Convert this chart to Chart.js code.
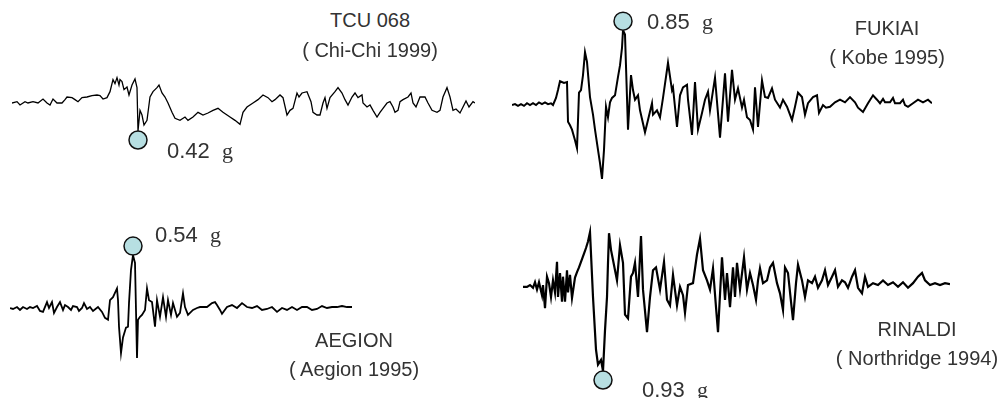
<!DOCTYPE html>
<html>
<head>
<meta charset="utf-8">
<script src="https://cdn.jsdelivr.net/npm/chart.js@4/dist/chart.umd.min.js"></script>
<style>
  html, body { margin: 0; padding: 0; background: #fff; }
  #stage { position: relative; width: 1000px; height: 398px; overflow: hidden; }
  #stage canvas { position: absolute; }
  .title, .event { position: absolute; width: 240px; text-align: center; color: #333;
    font-family: "Liberation Sans", Arial, sans-serif; font-size: 20px; line-height: 20px; white-space: pre; }
  .peak { position: absolute; color: #333; font-family: "Liberation Sans", Arial, sans-serif;
    font-size: 22px; line-height: 22px; white-space: pre; }
  .peak .unit { font-family: "Liberation Serif", "Times New Roman", serif; }
</style>
</head>
<body>
<div id="stage"></div>
<script>
// time steps along each trace, acceleration in g
const tcuTime = [0, 5, 8, 13, 16, 21, 26, 31, 35, 38, 41, 45, 50, 53, 55, 60, 63, 66, 70, 75, 80, 85, 88, 91, 95, 98,
  101, 103, 105, 107, 108, 110, 112, 115, 117, 120, 123, 125, 126, 128, 130, 132, 135, 138, 141, 145, 147, 150, 153,
  156, 160, 163, 168, 173, 176, 181, 186, 191, 196, 201, 206, 211, 218, 223, 228, 231, 235, 241, 246, 251, 256, 260,
  263, 268, 271, 275, 278, 281, 285, 287, 290, 295, 299, 301, 305, 308, 311, 313, 315, 318, 323, 326, 330, 333, 336,
  340, 343, 346, 350, 351, 355, 358, 361, 365, 368, 371, 375, 378, 381, 383, 386, 388, 391, 396, 399, 401, 404, 408,
  413, 416, 420, 425, 428, 431, 435, 438, 441, 444, 448, 451, 454, 457, 461, 463];
const tcuAcc = [0, 0.02, -0.03, 0.02, 0, 0.02, 0, 0.06, 0, -0.03, 0.06, 0, 0, 0.05, 0.09, 0.08, 0.05, 0.02, 0.08, 0.09,
  0.11, 0.12, 0.11, 0.06, 0.08, 0.17, 0.35, 0.29, 0.38, 0.27, 0.35, 0.32, 0.2, 0.24, 0.12, 0.27, 0.36, 0.23, -0.42,
  -0.11, -0.18, -0.33, -0.26, 0.09, 0.17, 0.23, 0.27, 0.15, 0.09, 0, -0.14, -0.23, -0.26, -0.21, -0.26, -0.21, -0.14,
  -0.18, -0.15, -0.11, -0.08, -0.14, -0.21, -0.26, -0.32, -0.14, -0.06, 0, 0.05, 0.12, 0.08, 0.02, 0.05, 0.12, 0.08,
  -0.18, -0.11, -0.08, 0.15, 0.09, 0.15, 0.17, 0.02, -0.14, -0.18, -0.18, 0, 0.08, -0.08, 0.08, 0.17, 0.23, 0.15, 0.05,
  -0.03, 0.09, 0.15, 0.08, 0.12, 0, -0.06, -0.03, -0.11, -0.21, -0.14, -0.08, 0, 0.02, -0.06, -0.14, -0.11, 0.02, 0.05,
  0.09, 0.15, 0, -0.06, 0.09, 0.09, 0, -0.11, -0.14, -0.11, 0.09, 0.23, 0.09, -0.11, -0.09, -0.15, -0.06, 0.03, -0.06,
  0.02, 0];

const fukiaiTime = [0, 3, 6, 9, 12, 15, 18, 21, 24, 27, 30, 33, 36, 39, 41, 44, 46, 48, 52, 55, 56, 58, 60, 63, 65, 67,
  69, 71, 73, 75, 78, 81, 83, 86, 88, 90, 92, 94, 96, 98, 100, 103, 106, 108, 110, 111, 113, 116, 119, 121, 123, 126,
  128, 133, 136, 140, 141, 145, 148, 151, 156, 160, 161, 165, 168, 171, 175, 176, 180, 183, 186, 190, 193, 196, 198,
  203, 208, 213, 216, 220, 223, 226, 230, 232, 235, 238, 241, 243, 246, 250, 253, 256, 260, 263, 268, 271, 275, 280,
  283, 286, 290, 293, 296, 301, 305, 307, 311, 314, 318, 323, 328, 333, 338, 343, 346, 351, 356, 361, 365, 368, 371,
  373, 378, 381, 383, 388, 391, 393, 396, 401, 406, 411, 416, 420];
const fukiaiAcc = [0, 0.01, -0.01, 0.01, -0.01, 0.02, 0, 0.02, 0, 0.03, 0.01, 0.03, 0.01, 0.02, 0, 0.08, 0.17, 0.27,
  0.25, 0.26, -0.19, -0.23, -0.28, -0.4, -0.49, 0.14, 0.17, 0.34, 0.6, 0.49, 0.09, -0.11, -0.28, -0.51, -0.66, -0.84,
  -0.51, -0.02, -0.14, 0.03, 0.08, 0.11, 0.32, 0.45, 0.65, 0.85, 0.8, -0.28, 0.34, 0.17, 0.06, 0.11, -0.06, -0.31,
  -0.17, 0.02, -0.11, -0.06, -0.14, 0.08, 0.48, 0.17, 0.2, -0.25, 0.11, 0.2, 0.23, 0.06, -0.34, 0.26, -0.28, -0.09,
  0.06, 0.15, -0.06, 0.31, -0.37, 0.36, -0.19, 0.4, 0.06, 0.19, -0.03, 0.06, -0.14, -0.17, -0.28, 0.2, -0.25, 0.28,
  0.09, 0.08, 0.19, 0.06, -0.03, 0.06, -0.02, -0.17, -0.02, 0.14, 0.09, -0.11, 0.02, 0.09, 0.11, -0.09, 0, -0.03,
  -0.02, 0.03, 0.06, 0.03, 0.09, 0.03, -0.03, -0.08, 0.02, 0.11, 0.06, 0.02, 0.07, 0.03, 0.03, 0.08, 0.02, 0.02, 0.06,
  0, -0.02, 0.02, 0.06, 0.03, 0.06, 0.02];

const aegionTime = [0, 3, 7, 10, 13, 17, 20, 23, 27, 30, 33, 37, 39, 42, 44, 47, 50, 53, 55, 58, 61, 63, 67, 69, 72, 74,
  77, 80, 83, 88, 92, 95, 98, 100, 103, 107, 108, 109, 111, 113, 116, 118, 119, 121, 123, 125, 127, 128, 130, 132, 135,
  137, 139, 142, 145, 147, 150, 153, 156, 158, 161, 163, 167, 170, 173, 175, 178, 183, 187, 190, 192, 197, 202, 205,
  207, 210, 212, 217, 222, 227, 232, 237, 242, 247, 252, 257, 262, 267, 272, 277, 282, 287, 292, 297, 302, 307, 312,
  317, 322, 327, 332, 337, 342];
const aegionAcc = [0, -0.01, 0.01, -0.02, 0.01, -0.01, 0.01, 0, 0.02, -0.03, -0.04, 0.06, 0, 0.06, -0.05, 0.01, 0.06,
  -0.02, 0.03, 0.01, -0.02, 0.02, 0.01, -0.03, 0, 0.05, -0.01, 0.01, -0.03, 0.01, -0.04, -0.1, -0.12, 0.08, 0.11, 0.2,
  0.08, -0.19, -0.46, -0.3, -0.2, -0.19, 0.05, 0.39, 0.54, 0.46, -0.51, -0.12, -0.09, -0.07, -0.02, 0.2, 0.08, 0.06,
  -0.19, 0.08, -0.09, 0.11, -0.09, 0.08, -0.07, 0.05, -0.09, -0.05, 0.15, 0.01, -0.07, -0.02, 0, 0.01, 0.01, 0.01, 0.05,
  0.06, 0.03, -0.02, -0.06, 0.01, 0.03, 0, 0.05, 0.01, 0, 0.02, -0.02, -0.01, 0.01, -0.04, 0, -0.02, 0.01, -0.02, 0.01,
  0.01, -0.02, -0.01, 0.02, 0, 0.01, 0.01, 0.02, 0.01, 0.01];

const rinaldiTime = [0, 4, 7, 10, 12, 14, 16, 19, 20, 22, 24, 26, 28, 30, 32, 34, 35, 37, 39, 40, 42, 44, 45, 47, 49,
  52, 54, 56, 59, 61, 63, 65, 67, 70, 73, 75, 78, 80, 82, 84, 85, 86, 88, 90, 94, 97, 100, 102, 105, 108, 110, 112,
  115, 118, 120, 124, 127, 130, 133, 137, 141, 144, 147, 150, 154, 157, 160, 162, 165, 170, 174, 177, 180, 184, 187,
  190, 193, 195, 199, 202, 204, 207, 210, 212, 214, 217, 221, 224, 227, 230, 233, 235, 237, 240, 244, 247, 250, 254,
  257, 260, 262, 265, 268, 270, 273, 275, 279, 282, 285, 289, 292, 295, 299, 302, 305, 309, 312, 315, 319, 322, 325,
  329, 332, 335, 339, 342, 345, 350, 355, 360, 365, 370, 375, 380, 385, 390, 395, 399, 402, 407, 412, 417, 422, 427];
const rinaldiAcc = [-0.02, -0.02, 0, -0.03, 0.03, -0.05, 0.03, -0.11, 0, -0.25, 0.09, 0.02, -0.13, 0.05, -0.08, 0.25,
  -0.13, 0.13, -0.18, 0.09, -0.18, 0.16, -0.08, 0.11, -0.14, 0.08, 0.14, 0.19, 0.28, 0.34, 0.4, 0.47, 0.57, -0.13,
  -0.7, -0.86, -0.81, -0.93, -0.49, -0.13, 0.24, 0.56, 0.38, 0.27, 0.05, 0.43, 0.24, -0.32, -0.36, 0.09, 0.13, 0.24,
  -0.13, 0.53, -0.05, -0.51, -0.13, 0.16, 0.19, -0.05, 0.25, -0.16, -0.22, 0.11, -0.22, -0.02, -0.11, -0.3, 0, 0.02,
  0.33, 0.5, 0.16, 0.05, -0.05, 0.18, -0.24, -0.51, 0.3, -0.16, 0.13, -0.24, 0.19, -0.13, 0.24, -0.05, 0.3, -0.05,
  0.13, 0, -0.16, 0.05, 0.18, 0.02, 0.05, 0.19, 0.24, 0.02, -0.09, -0.27, 0.19, 0.13, -0.18, -0.38, 0.02, 0.22, 0.05,
  -0.13, 0.05, 0.02, 0.09, -0.03, 0.05, 0.16, 0, 0.09, 0.16, -0.02, 0.05, 0.03, -0.03, 0.09, 0.16, -0.03, -0.09, 0.09,
  -0.02, 0.02, 0, 0.05, 0, 0.03, -0.02, 0.03, -0.03, 0.02, 0.09, 0.13, 0.05, 0, 0.02, 0, 0.02, 0.01];

const stationNames = ['TCU 068', 'FUKIAI', 'AEGION', 'RINALDI'];
const eventNames = ['( Chi-Chi 1999)', '( Kobe 1995)', '( Aegion 1995)', '( Northridge 1994)'];

// where each trace sits on the page (pixels)
const panels = [
  { left: 12, top: 60, width: 463, height: 100, zero: 103, pxPerG: 66.7, line: 1.3,
    titleX: 370, titleY: 10, eventY: 40, peakDx: 29, peakDy: 0 },
  { left: 512, top: 5, width: 420, height: 190, zero: 105, pxPerG: 88, line: 2,
    titleX: 887, titleY: 18, eventY: 47, peakDx: 24, peakDy: -10 },
  { left: 10, top: 225, width: 342, height: 145, zero: 308, pxPerG: 98, line: 1.8,
    titleX: 354, titleY: 330, eventY: 359, peakDx: 22, peakDy: -22 },
  { left: 523, top: 210, width: 427, height: 185, zero: 285, pxPerG: 92.5, line: 2.2,
    titleX: 917, titleY: 319, eventY: 348, peakDx: 39, peakDy: -1 }
];

const traces = [[tcuTime, tcuAcc], [fukiaiTime, fukiaiAcc], [aegionTime, aegionAcc], [rinaldiTime, rinaldiAcc]];

const peakMarker = {
  id: 'peakMarker',
  afterDatasetsDraw(chart, args, opts) {
    const meta = chart.getDatasetMeta(0);
    const pt = meta.data[opts.index];
    const value = chart.data.datasets[0].data[opts.index].y;
    const dir = value < 0 ? 1 : -1;
    const ctx = chart.ctx;
    ctx.save();
    ctx.beginPath();
    ctx.arc(pt.x, pt.y + dir * opts.radius, opts.radius, 0, Math.PI * 2);
    ctx.fillStyle = '#b7dfe2';
    ctx.fill();
    ctx.lineWidth = 1.5;
    ctx.strokeStyle = '#111';
    ctx.stroke();
    ctx.restore();
  }
};

const stage = document.getElementById('stage');

function addText(cls, text, left, top) {
  const el = document.createElement('div');
  el.className = cls;
  el.textContent = text;
  el.style.left = left + 'px';
  el.style.top = top + 'px';
  stage.appendChild(el);
  return el;
}

panels.forEach((p, i) => {
  const [time, acc] = traces[i];
  const canvas = document.createElement('canvas');
  canvas.width = p.width;
  canvas.height = p.height;
  canvas.style.left = p.left + 'px';
  canvas.style.top = p.top + 'px';
  stage.appendChild(canvas);

  let peakIndex = 0;
  acc.forEach((v, k) => { if (Math.abs(v) > Math.abs(acc[peakIndex])) peakIndex = k; });

  new Chart(canvas, {
    type: 'line',
    data: {
      datasets: [{
        data: time.map((t, k) => ({ x: t, y: acc[k] })),
        borderColor: '#000',
        borderWidth: p.line,
        pointRadius: 0,
        tension: 0,
        clip: false
      }]
    },
    options: {
      responsive: false,
      animation: false,
      devicePixelRatio: 1,
      layout: { padding: 0 },
      plugins: {
        legend: { display: false },
        tooltip: { enabled: false },
        peakMarker: { index: peakIndex, radius: 9 }
      },
      scales: {
        x: { type: 'linear', display: false, min: 0, max: time[time.length - 1] },
        y: { display: false,
          max: (p.zero - p.top) / p.pxPerG,
          min: -(p.top + p.height - p.zero) / p.pxPerG }
      }
    },
    plugins: [peakMarker]
  });

  addText('title', stationNames[i], p.titleX - 120, p.titleY);
  addText('event', eventNames[i], p.titleX - 120, p.eventY);

  // peak label next to the circle
  const peakVal = acc[peakIndex];
  const circleY = p.zero - peakVal * p.pxPerG + (peakVal < 0 ? 9 : -9);
  const circleX = p.left + time[peakIndex] * p.width / time[time.length - 1];
  const lab = addText('peak', '', circleX + p.peakDx, circleY + p.peakDy);
  lab.innerHTML = Math.abs(peakVal).toFixed(2) + '  <span class="unit">g</span>';
});
</script>
</body>
</html>
